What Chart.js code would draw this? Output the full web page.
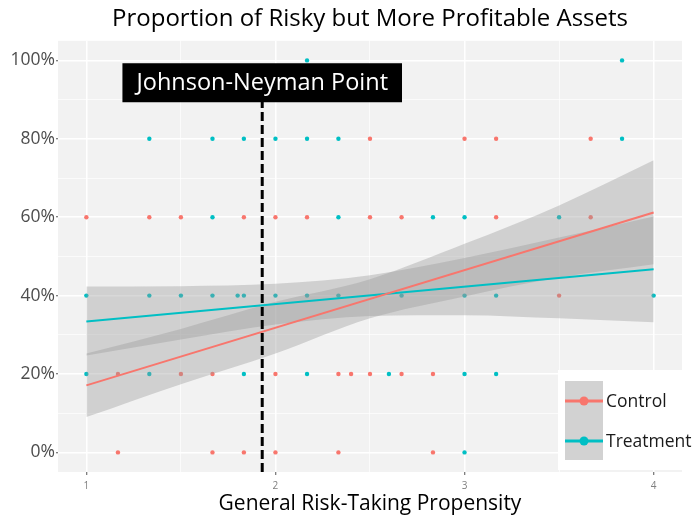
<!DOCTYPE html>
<html><head><meta charset="utf-8">
<script src="https://cdn.jsdelivr.net/npm/chart.js@4.4.0/dist/chart.umd.min.js"></script>
<style>html,body{margin:0;padding:0;background:#fff;}#wrap{width:694px;height:518px;position:relative;}</style>
</head><body><div id="wrap"><canvas id="c"></canvas></div>
<script>
// ---- data ----
const seriesNames = ['Control', 'Treatment'];
const controlX = [1.167, 1.667, 1.833, 2.0, 2.333, 2.833,
  1.167, 1.5, 1.667, 2.0, 2.333, 2.4, 2.5, 2.667, 2.833,
  3.5,
  1.0, 1.333, 1.5, 1.833, 2.0, 2.167, 2.5, 2.667, 3.167, 3.667,
  2.5, 3.0, 3.167, 3.667];
const controlY = [0, 0, 0, 0, 0, 0,
  20, 20, 20, 20, 20, 20, 20, 20, 20,
  40,
  60, 60, 60, 60, 60, 60, 60, 60, 60, 60,
  80, 80, 80, 80];
const treatmentX = [3.0,
  1.0, 1.333, 1.833, 2.167, 2.6, 3.0, 3.167,
  1.0, 1.333, 1.5, 1.667, 1.8, 1.833, 2.0, 2.167, 2.333, 2.667, 3.0, 3.167, 4.0,
  1.667, 2.333, 2.833, 3.0, 3.5,
  1.333, 1.667, 1.833, 2.0, 2.167, 2.333, 3.833,
  2.167, 3.833];
const treatmentY = [0,
  20, 20, 20, 20, 20, 20, 20,
  40, 40, 40, 40, 40, 40, 40, 40, 40, 40, 40, 40, 40,
  60, 60, 60, 60, 60,
  80, 80, 80, 80, 80, 80, 80,
  100, 100];
const fitX = [1, 4];
const controlFit = [17.1, 61.2];
const treatmentFit = [33.4, 46.7];
const bandX = [1, 1.5, 2, 2.5, 3, 3.5, 4];
const controlUpper = [25.2, 31.5, 38.4, 44.2, 53.2, 63.0, 74.5];
const controlLower = [9.0, 17.4, 25.2, 34.2, 39.8, 44.6, 48.0];
const treatmentUpper = [42.3, 42.4, 43.0, 45.2, 49.6, 54.8, 60.2];
const treatmentLower = [24.7, 28.8, 32.6, 34.8, 35.0, 34.2, 33.2];
const jnX = 1.93;
const jnLabel = 'Johnson-Neyman Point';
const jnLabelY = 94.3;
const xTickValues = [1, 2, 3, 4];
const xTickLabels = ['1', '2', '3', '4'];
const yTickValues = [0, 20, 40, 60, 80, 100];
const yTickLabels = ['0%', '20%', '40%', '60%', '80%', '100%'];
const titleText = 'Proportion of Risky but More Profitable Assets';
const xTitleText = 'General Risk-Taking Propensity';

// ---- styling ----
const RED = '#F8766D', TEAL = '#00BFC4';
const BAND = 'rgba(153,153,153,0.38)';
const FONT = '"Open Sans", "Noto Sans", sans-serif';

const zip = (xs, ys) => xs.map((x, i) => ({x, y: ys[i]}));

const panelBg = {
  id: 'panelBg',
  beforeDraw(chart) {
    const {ctx, chartArea: a} = chart;
    ctx.save();
    ctx.fillStyle = '#f2f2f2';
    ctx.fillRect(a.left, a.top, a.right - a.left, a.bottom - a.top);
    ctx.restore();
  }
};

const overlay = {
  id: 'overlay',
  afterDraw(chart) {
    const {ctx, chartArea: a, scales: {x, y}} = chart;
    ctx.save();
    // Johnson-Neyman label box
    ctx.font = '23.5px ' + FONT;
    const tw = ctx.measureText(jnLabel).width;
    const cx = x.getPixelForValue(jnX), cy = y.getPixelForValue(jnLabelY);
    const bw = tw + 28, bh = 39;
    ctx.fillStyle = '#000';
    ctx.fillRect(cx - bw / 2, cy - bh / 2, bw, bh);
    ctx.fillStyle = '#fff';
    ctx.textAlign = 'center';
    ctx.textBaseline = 'middle';
    ctx.fillText(jnLabel, cx, cy + 1);
    // legend
    const lx = a.right - 124, ly = a.bottom - 102;
    ctx.fillStyle = '#fff';
    ctx.fillRect(lx, ly, 126, 100);
    ctx.fillStyle = '#d2d2d2';
    ctx.fillRect(lx + 7, ly + 11, 38, 79);
    const cols = [RED, TEAL];
    ctx.font = '17.5px ' + FONT;
    ctx.textAlign = 'left';
    seriesNames.forEach((name, i) => {
      const ky = ly + 31 + i * 40;
      ctx.strokeStyle = cols[i];
      ctx.lineWidth = 3;
      ctx.beginPath(); ctx.moveTo(lx + 7, ky); ctx.lineTo(lx + 45, ky); ctx.stroke();
      ctx.fillStyle = cols[i];
      ctx.beginPath(); ctx.arc(lx + 26, ky, 4.5, 0, Math.PI * 2); ctx.fill();
      ctx.fillStyle = '#1a1a1a';
      ctx.fillText(name, lx + 48, ky + 1);
    });
    ctx.restore();
  }
};

const isMajorX = v => Number.isInteger(v);
const isMajorY = v => v % 20 === 0;

new Chart(document.getElementById('c'), {
  type: 'scatter',
  data: {
    datasets: [
      {label: 'Control', data: zip(controlX, controlY), backgroundColor: RED, borderWidth: 0, pointRadius: 2.2, order: 5},
      {label: 'Treatment', data: zip(treatmentX, treatmentY), backgroundColor: TEAL, borderWidth: 0, pointRadius: 2.2, order: 5},
      {type: 'line', label: 'cu', data: zip(bandX, controlUpper), fill: '+1', backgroundColor: BAND, borderWidth: 0, pointRadius: 0, cubicInterpolationMode: 'monotone', order: 3},
      {type: 'line', label: 'cl', data: zip(bandX, controlLower), fill: false, borderWidth: 0, pointRadius: 0, cubicInterpolationMode: 'monotone', order: 3},
      {type: 'line', label: 'tu', data: zip(bandX, treatmentUpper), fill: '+1', backgroundColor: BAND, borderWidth: 0, pointRadius: 0, cubicInterpolationMode: 'monotone', order: 3},
      {type: 'line', label: 'tl', data: zip(bandX, treatmentLower), fill: false, borderWidth: 0, pointRadius: 0, cubicInterpolationMode: 'monotone', order: 3},
      {type: 'line', label: 'Control fit', data: zip(fitX, controlFit), borderColor: RED, borderWidth: 2, pointRadius: 0, fill: false, order: 1},
      {type: 'line', label: 'Treatment fit', data: zip(fitX, treatmentFit), borderColor: TEAL, borderWidth: 2, pointRadius: 0, fill: false, order: 1},
      {type: 'line', label: 'JN', data: [{x: jnX, y: -5}, {x: jnX, y: jnLabelY}], borderColor: '#000', borderWidth: 3, borderDash: [9, 4], pointRadius: 0, fill: false, order: 0}
    ]
  },
  options: {
    responsive: true,
    maintainAspectRatio: false,
    animation: false,
    layout: {padding: {top: 4, right: 12, bottom: 0, left: 0}},
    plugins: {
      legend: {display: false},
      tooltip: {enabled: false},
      title: {display: true, text: titleText, fullSize: false, color: '#000',
        font: {family: FONT, size: 24, weight: 'normal'}, padding: {top: 1, bottom: 7}}
    },
    scales: {
      x: {
        type: 'linear', min: 0.85, max: 4.15,
        afterBuildTicks: s => { s.ticks = [1, 1.5, 2, 2.5, 3, 3.5, 4].map(v => ({value: v})); },
        afterFit: s => { s.height = 46; },
        border: {display: false},
        grid: {
          color: '#ffffff',
          lineWidth: c => (c.tick && isMajorX(c.tick.value)) ? 1.5 : 0.7,
          tickColor: c => (c.tick && isMajorX(c.tick.value)) ? '#555' : 'rgba(0,0,0,0)',
          tickLength: 3, tickWidth: 1
        },
        ticks: {
          autoSkip: false, maxRotation: 0, padding: 5, color: '#7f7f7f',
          font: {family: FONT, size: 10},
          callback: v => { const i = xTickValues.indexOf(v); return i >= 0 ? xTickLabels[i] : ''; }
        },
        title: {display: true, text: xTitleText, color: '#000',
          font: {family: FONT, size: 21}, padding: {top: 0, bottom: 1}}
      },
      y: {
        type: 'linear', min: -5, max: 105,
        afterBuildTicks: s => { s.ticks = [0, 10, 20, 30, 40, 50, 60, 70, 80, 90, 100].map(v => ({value: v})); },
        afterFit: s => { s.width = 58; },
        border: {display: false},
        grid: {
          color: '#ffffff',
          lineWidth: c => (c.tick && isMajorY(c.tick.value)) ? 1.5 : 0.7,
          tickColor: c => (c.tick && isMajorY(c.tick.value)) ? '#555' : 'rgba(0,0,0,0)',
          tickLength: 2, tickWidth: 1
        },
        ticks: {
          autoSkip: false, padding: 1, color: '#4d4d4d',
          font: {family: FONT, size: 17.5},
          callback: v => { const i = yTickValues.indexOf(v); return i >= 0 ? yTickLabels[i] : ''; }
        }
      }
    }
  },
  plugins: [panelBg, overlay]
});
</script>
</body></html>
